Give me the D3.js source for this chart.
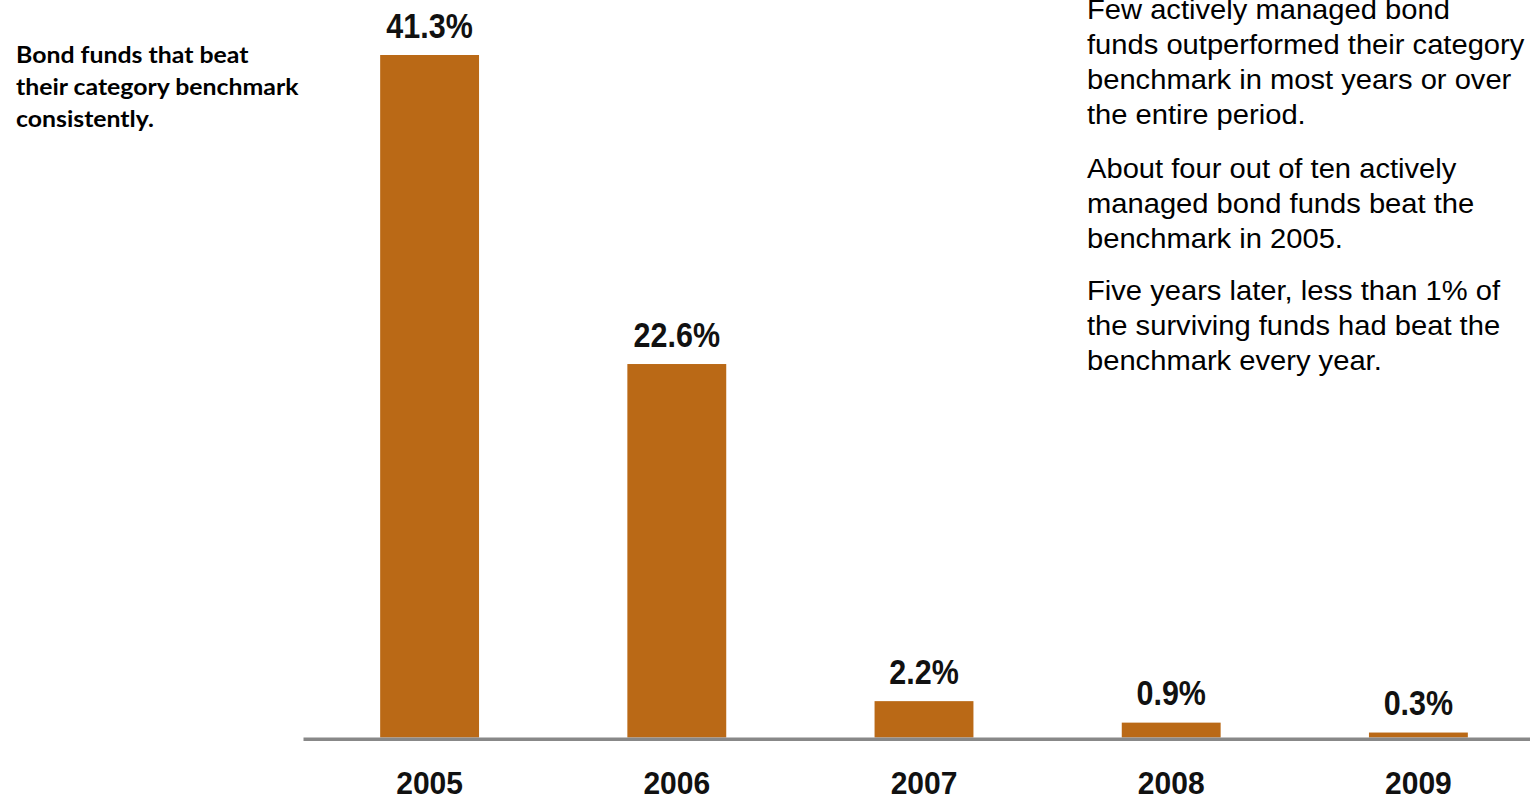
<!DOCTYPE html>
<html>
<head>
<meta charset="utf-8">
<script src="https://cdn.jsdelivr.net/npm/d3@7"></script>
<style>
  html, body { margin: 0; padding: 0; background: #fff; }
  svg { display: block; }
</style>
</head>
<body>
<svg id="chart" width="1530" height="801"></svg>
<script>
// Share of actively managed bond funds beating their benchmark, by year
const years = ["2005", "2006", "2007", "2008", "2009"];
const beatShare = [41.3, 22.6, 2.2, 0.9, 0.3];
const valueLabels = ["41.3%", "22.6%", "2.2%", "0.9%", "0.3%"];

const sideTitle = ["Bond funds that beat", "their category benchmark", "consistently."];
const notes = [
  ["Few actively managed bond", "funds outperformed their category", "benchmark in most years or over", "the entire period."],
  ["About four out of ten actively", "managed bond funds beat the", "benchmark in 2005."],
  ["Five years later, less than 1% of", "the surviving funds had beat the", "benchmark every year."]
];

const svg = d3.select("#chart");
const baseY = 737.5;

const x = d3.scaleBand()
  .domain(years)
  .range([306, 1542])
  .paddingInner(0.6)
  .paddingOuter(0.3);

const y = d3.scaleLinear()
  .domain([0, d3.max(beatShare)])
  .range([baseY, 55]);

const rows = years.map((yr, i) => ({ year: yr, value: beatShare[i], label: valueLabels[i] }));

// bars
svg.append("g")
  .selectAll("rect")
  .data(rows)
  .join("rect")
  .attr("x", d => x(d.year))
  .attr("y", d => y(d.value))
  .attr("width", x.bandwidth())
  .attr("height", d => y(0) - y(d.value))
  .attr("fill", "#BA6916");

// baseline axis
const axis = svg.append("g")
  .attr("transform", `translate(0,${baseY + 1.75})`)
  .call(d3.axisBottom(x).tickSize(0).tickPadding(0).tickFormat(""));
axis.select(".domain").remove();
axis.append("line")
  .attr("x1", 303.5).attr("x2", 1530)
  .attr("stroke", "#888888")
  .attr("stroke-width", 3.5);

// year labels
svg.append("g")
  .selectAll("text")
  .data(rows)
  .join("text")
  .attr("transform", d => `translate(${x(d.year) + x.bandwidth() / 2},794) scale(1,1.05)`)
  .attr("text-anchor", "middle")
  .attr("font-family", "'Liberation Sans', Arial, sans-serif")
  .attr("font-size", 30)
  .attr("font-weight", "bold")
  .attr("fill", "#111")
  .text(d => d.year);

// value labels above bars
svg.append("g")
  .selectAll("text")
  .data(rows)
  .join("text")
  .attr("transform", d => `translate(${x(d.year) + x.bandwidth() / 2},${y(d.value) - 17.5}) scale(1,1.12)`)
  .attr("text-anchor", "middle")
  .attr("font-family", "'Liberation Sans', Arial, sans-serif")
  .attr("font-size", 30.5)
  .attr("font-weight", "bold")
  .attr("fill", "#111")
  .text(d => d.label);

// side title
svg.append("g")
  .selectAll("text")
  .data(sideTitle)
  .join("text")
  .attr("transform", (d, i) => `translate(16,${63 + i * 32}) scale(1.08,1)`)
  .attr("font-family", "Lato, 'Open Sans', sans-serif")
  .attr("font-size", 23)
  .attr("font-weight", "bold")
  .attr("fill", "#000")
  .text(d => d);

// explanatory notes
const paraTop = [19, 178, 300];
notes.forEach((para, p) => {
  svg.append("g")
    .selectAll("text")
    .data(para)
    .join("text")
    .attr("transform", (d, i) => `translate(1087,${paraTop[p] + i * 35}) scale(1.06,1)`)
    .attr("font-family", "'Liberation Sans', Arial, sans-serif")
    .attr("font-size", 27.5)
    .attr("fill", "#000")
    .text(d => d);
});
</script>
</body>
</html>
